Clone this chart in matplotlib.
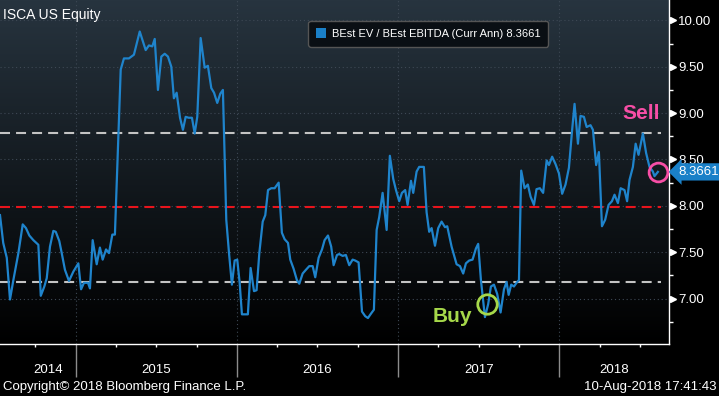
import matplotlib
matplotlib.use("Agg")
import matplotlib.pyplot as plt
import numpy as np
from matplotlib.colors import LinearSegmentedColormap
from matplotlib.patches import Patch
from matplotlib.transforms import blended_transform_factory

plt.rcParams["font.family"] = ["Liberation Sans", "DejaVu Sans"]

TICKER = "ISCA US Equity"
SERIES_LABEL = "BEst EV / BEst EBITDA (Curr Ann)"
LAST_VALUE = 8.3661

# dates as decimal years
t_2014 = [2014.530, 2014.550, 2014.572, 2014.592, 2014.613, 2014.644, 2014.671, 2014.691,
          2014.712, 2014.737, 2014.768, 2014.783, 2014.805, 2014.820, 2014.840, 2014.861,
          2014.876, 2014.898, 2014.913, 2014.933, 2014.958, 2014.985]
v_2014 = [7.90, 7.60, 7.44, 6.99, 7.20, 7.49, 7.80, 7.76, 7.68, 7.63, 7.58, 7.03, 7.13, 7.22,
          7.56, 7.73, 7.72, 7.62, 7.49, 7.31, 7.19, 7.29]

t_2015 = [2015.016, 2015.033, 2015.051, 2015.076, 2015.088, 2015.105, 2015.130, 2015.150,
          2015.167, 2015.188, 2015.206, 2015.227, 2015.243, 2015.279, 2015.299, 2015.330,
          2015.361, 2015.397, 2015.434, 2015.454, 2015.475, 2015.490, 2015.510, 2015.531,
          2015.552, 2015.572, 2015.593, 2015.609, 2015.626, 2015.647, 2015.665, 2015.682,
          2015.701, 2015.721, 2015.738, 2015.754, 2015.775, 2015.800, 2015.820, 2015.841,
          2015.858, 2015.878, 2015.897, 2015.913, 2015.934, 2015.951, 2015.969, 2015.986]
v_2015 = [7.38, 7.10, 7.17, 7.17, 7.11, 7.63, 7.37, 7.55, 7.42, 7.53, 7.49, 7.69, 7.69, 9.47,
          9.59, 9.59, 9.63, 9.88, 9.68, 9.73, 9.72, 9.80, 9.25, 9.61, 9.64, 9.61, 9.50, 9.16,
          9.22, 8.95, 8.82, 8.96, 8.95, 8.95, 8.78, 8.96, 9.81, 9.49, 9.51, 9.27, 9.22, 9.11,
          9.21, 9.25, 7.85, 7.49, 7.15, 7.41]

t_2016 = [2016.002, 2016.017, 2016.031, 2016.068, 2016.085, 2016.106, 2016.122, 2016.139,
          2016.160, 2016.176, 2016.193, 2016.213, 2016.234, 2016.259, 2016.279, 2016.296,
          2016.317, 2016.331, 2016.352, 2016.372, 2016.387, 2016.408, 2016.428, 2016.449,
          2016.470, 2016.486, 2016.507, 2016.528, 2016.544, 2016.565, 2016.585, 2016.600,
          2016.621, 2016.635, 2016.656, 2016.676, 2016.697, 2016.718, 2016.734, 2016.755,
          2016.776, 2016.796, 2016.813, 2016.833, 2016.850, 2016.867, 2016.883, 2016.904,
          2016.929, 2016.949, 2016.970, 2016.987]
v_2016 = [7.42, 7.17, 6.83, 6.83, 7.33, 7.08, 7.09, 7.49, 7.83, 7.90, 8.17, 8.19, 8.19, 8.25,
          7.71, 7.64, 7.60, 7.42, 7.32, 7.20, 7.16, 7.27, 7.31, 7.35, 7.35, 7.23, 7.44, 7.53,
          7.63, 7.68, 7.56, 7.36, 7.47, 7.48, 7.46, 7.47, 7.36, 7.42, 7.41, 7.39, 6.86, 6.81,
          6.79, 6.84, 6.88, 7.74, 7.88, 8.14, 7.74, 8.54, 8.29, 8.17]

t_2017 = [2017.007, 2017.024, 2017.044, 2017.059, 2017.080, 2017.094, 2017.115, 2017.131,
          2017.160, 2017.177, 2017.193, 2017.208, 2017.229, 2017.249, 2017.270, 2017.291,
          2017.305, 2017.332, 2017.363, 2017.384, 2017.404, 2017.421, 2017.441, 2017.462,
          2017.483, 2017.497, 2017.514, 2017.539, 2017.559, 2017.576, 2017.595, 2017.615,
          2017.636, 2017.657, 2017.673, 2017.686, 2017.702, 2017.719, 2017.735, 2017.750,
          2017.764, 2017.785, 2017.805, 2017.822, 2017.843, 2017.859, 2017.880, 2017.900,
          2017.922, 2017.936, 2017.956, 2017.977, 2017.998]
v_2017 = [8.05, 8.14, 8.17, 8.01, 8.27, 8.14, 8.37, 8.42, 8.42, 7.93, 7.72, 7.76, 7.57, 7.76,
          7.83, 7.77, 7.78, 7.56, 7.37, 7.35, 7.27, 7.38, 7.41, 7.42, 7.54, 7.59, 7.20, 6.80,
          6.94, 7.13, 7.15, 7.05, 6.85, 7.10, 7.18, 7.04, 7.15, 7.13, 7.17, 7.20, 8.38, 8.19,
          8.23, 8.10, 8.01, 8.18, 8.19, 8.14, 8.49, 8.44, 8.53, 8.45, 8.35]

t_2018 = [2018.018, 2018.039, 2018.060, 2018.080, 2018.095, 2018.116, 2018.132, 2018.153,
          2018.170, 2018.194, 2018.209, 2018.229, 2018.246, 2018.265, 2018.285, 2018.306,
          2018.327, 2018.343, 2018.364, 2018.381, 2018.405, 2018.421, 2018.436, 2018.457,
          2018.474, 2018.492, 2018.519, 2018.539, 2018.560, 2018.581, 2018.591, 2018.612]
v_2018 = [8.13, 8.23, 8.41, 8.82, 9.10, 8.67, 8.97, 8.96, 8.85, 8.87, 8.82, 8.44, 8.58, 7.78,
          7.85, 8.01, 8.05, 8.12, 8.03, 8.19, 8.17, 8.05, 8.28, 8.42, 8.67, 8.55, 8.78, 8.57,
          8.42, 8.37, 8.32, LAST_VALUE]

SELL_LEVEL = 8.79
MEAN_LEVEL = 7.99
BUY_LEVEL = 7.18
BUY_MARK = (2017.553, 6.946)

year_labels = ["2014", "2015", "2016", "2017", "2018"]
year_label_pos = [2014.83, 2015.5, 2016.5, 2017.5, 2018.34]
year_starts = [2015, 2016, 2017, 2018]
y_ticks = [7.0, 7.5, 8.0, 8.5, 9.0, 9.5, 10.0]

XMIN, XMAX = 2014.530, 2018.681
YMIN, YMAX = 6.51, 10.22

BLUE = "#1f84cc"
PINK = "#f74ea6"
GREEN = "#a6d84a"

t_all = t_2014 + t_2015 + t_2016 + t_2017 + t_2018
v_all = v_2014 + v_2015 + v_2016 + v_2017 + v_2018

W, H = 719, 396
fig = plt.figure(figsize=(W / 100, H / 100), dpi=100, facecolor="black")
ax = fig.add_axes([0, 52 / H, 669 / W, 344 / H])

# dark blue-grey to black background
bg = LinearSegmentedColormap.from_list("bg", ["#27343f", "#000000"])
ax.imshow(np.linspace(0, 1, 256).reshape(-1, 1), extent=[XMIN, XMAX, YMIN, YMAX],
          aspect="auto", cmap=bg, origin="upper", zorder=-10)
ax.set_xlim(XMIN, XMAX)
ax.set_ylim(YMIN, YMAX)
ax.set_axisbelow(True)

ax.set_xticks(year_starts)
ax.set_xticks([y + q for y in range(2014, 2019) for q in (0.25, 0.5, 0.75)
               if XMIN < y + q < XMAX], minor=True)
ax.set_xticklabels([])
ax.set_yticks(y_ticks)
ax.set_yticks(np.arange(6.75, 10.1, 0.5), minor=True)
ax.set_yticklabels([f"{v:.2f}" for v in y_ticks])
ax.yaxis.tick_right()

ax.grid(True, which="major", color="#3e4955", linestyle=(0, (1, 2.5)), linewidth=0.8)

for s in ("left", "top"):
    ax.spines[s].set_visible(False)
for s in ("right", "bottom"):
    ax.spines[s].set_color("white")
    ax.spines[s].set_linewidth(1.0)

ax.tick_params(axis="x", which="major", length=23.8, width=1, color="#8c8c8c", direction="out")
ax.tick_params(axis="x", which="minor", length=2.4, width=1, color="white", direction="out")
ax.tick_params(axis="y", which="major", length=0, pad=6.5, labelcolor="white", labelsize=9.5)
ax.tick_params(axis="y", which="minor", length=2.6, width=1, color="white")

blend_y = blended_transform_factory(ax.transAxes, ax.transData)
blend_x = blended_transform_factory(ax.transData, ax.transAxes)
ax.plot([1.0067] * len(y_ticks), y_ticks, ls="none", marker=">", ms=4.5, color="white",
        transform=blend_y, clip_on=False)

for lab, pos in zip(year_labels, year_label_pos):
    ax.text(pos, -0.0756, lab, transform=blend_x, ha="center", va="center",
            color="white", fontsize=9.5, clip_on=False)

dash = dict(linewidth=1.5, linestyle=(0, (4.8, 2.9)))
ax.hlines([SELL_LEVEL, BUY_LEVEL], XMIN, 2018.63, color="#c4c4c4", zorder=2, **dash)
ax.hlines(MEAN_LEVEL, XMIN, 2018.63, color="#e8141c", zorder=2, **dash)

ax.plot(t_all, v_all, color=BLUE, lw=1.6, zorder=3)

ax.plot(t_all[-1], v_all[-1], marker="o", ms=13.5, mfc="none", mec=PINK, mew=2, zorder=5)
ax.plot(*BUY_MARK, marker="o", ms=14, mfc="none", mec=GREEN, mew=2, zorder=5)
ax.text(2018.511, 8.94, "Sell", color=PINK, fontsize=15, fontweight="bold",
        ha="center", va="baseline", zorder=6)
ax.text(2017.334, 6.752, "Buy", color=GREEN, fontsize=15, fontweight="bold",
        ha="center", va="baseline", zorder=6)

# last value tag on the axis
ax.text(1.0 + 9 / 669, LAST_VALUE, f"{LAST_VALUE:.4f}", transform=blend_y,
        ha="left", va="center", color="white", fontsize=9.5, clip_on=False,
        bbox=dict(boxstyle="larrow,pad=0.2", fc="#1a80c8", ec="none"))

leg = ax.legend(handles=[Patch(facecolor="#1a80c8")],
                labels=[f"{SERIES_LABEL} {LAST_VALUE:.4f}"],
                loc="upper left", bbox_to_anchor=(308.3 / W, 1 - 20.7 / H),
                bbox_transform=fig.transFigure, borderaxespad=0, fontsize=8,
                labelcolor="white", facecolor="#0a0f14", edgecolor="#555555",
                framealpha=1, fancybox=True, handlelength=0.9, handleheight=0.9,
                handletextpad=0.5, borderpad=0.7)

fig.text(3 / W, 1 - 14.5 / H, TICKER, ha="left", va="center", color="white", fontsize=10)
fig.text(3 / W, 9 / H, "Copyright\u00a9 2018 Bloomberg Finance L.P.", ha="left",
         va="center", color="white", fontsize=9.5)
fig.text(716 / W, 9 / H, "10-Aug-2018 17:41:43", ha="right", va="center",
         color="white", fontsize=9.5)

fig.savefig("out.png", dpi=100, facecolor="black")
